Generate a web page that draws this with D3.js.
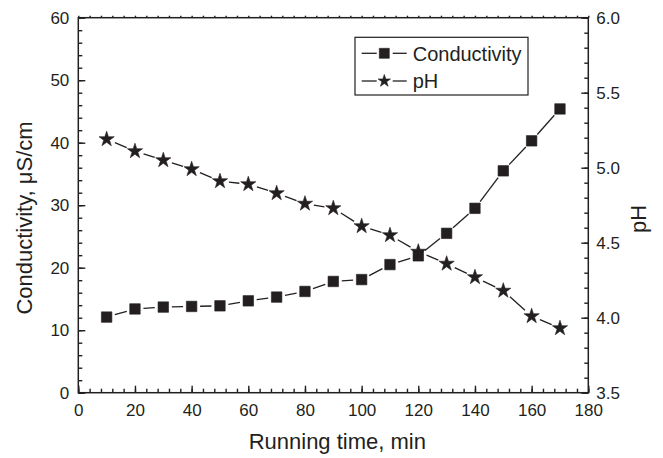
<!DOCTYPE html>
<html>
<head>
<meta charset="utf-8">
<script src="https://cdn.jsdelivr.net/npm/d3@7"></script>
<style>
    body { margin: 0; background: #fff; }
    text { font-family: "Liberation Sans", Arial, Helvetica, sans-serif; fill: #231f20; }
</style>
</head>
<body>
<div id="chart"></div>
<script>
// running time (min) and the two measured series
var times = [10, 20, 30, 40, 50, 60, 70, 80, 90, 100, 110, 120, 130, 140, 150, 160, 170];
var conductivity = [12.1, 13.4, 13.7, 13.8, 13.9, 14.7, 15.3, 16.2, 17.8, 18.1, 20.5, 21.9, 25.5, 29.5, 35.5, 40.3, 45.4];
var phValues = [5.19, 5.11, 5.05, 4.99, 4.91, 4.89, 4.83, 4.76, 4.73, 4.61, 4.55, 4.44, 4.36, 4.27, 4.18, 4.01, 3.93];

var xTicks = [0, 20, 40, 60, 80, 100, 120, 140, 160, 180];
var condTicks = [0, 10, 20, 30, 40, 50, 60];
var phTicks = [3.5, 4.0, 4.5, 5.0, 5.5, 6.0];

var seriesNames = ["Conductivity", "pH"];

var ink = "#231f20";

var margin = { left: 78.3, top: 17.7, right: 74.7, bottom: 65.3 },
    width = 663 - margin.left - margin.right,
    height = 458 - margin.top - margin.bottom;

// //////////////////////////////////////////////////////////
// ///////////////////// Scales /////////////////////////////
// //////////////////////////////////////////////////////////

var x = d3.scaleLinear().domain([0, 180]).range([0, width]);
var yCond = d3.scaleLinear().domain([0, 60]).range([height, 0]);
var yPh = d3.scaleLinear().domain([3.5, 6.0]).range([height, 0]);

var svg = d3.select("#chart").append("svg")
    .attr("width", 663)
    .attr("height", 458)
    .append("g")
    .attr("transform", "translate(" + margin.left + "," + margin.top + ")");

// //////////////////////////////////////////////////////////
// ///////////////////// Axes ///////////////////////////////
// //////////////////////////////////////////////////////////

function minorTicks(scale, step) {
    var d = scale.domain(), out = [];
    for (var v = d[0]; v <= d[1] + 1e-9; v += step) out.push(+v.toFixed(4));
    return out;
}

function styleAxis(g) {
    g.select(".domain").remove();
    g.selectAll("line").attr("stroke", ink).attr("stroke-width", 1.4);
    g.selectAll("text").style("font-size", "17px").style("font-family", null).attr("fill", ink);
}

// minor ticks first, then majors with labels
svg.append("g")
    .attr("transform", "translate(0," + height + ")")
    .call(d3.axisBottom(x).tickValues(minorTicks(x, 4)).tickSize(-4).tickFormat(""))
    .call(styleAxis);
svg.append("g")
    .attr("transform", "translate(0," + height + ")")
    .call(d3.axisBottom(x).tickValues(xTicks).tickSize(-7).tickPadding(11).tickFormat(d3.format("d")))
    .call(styleAxis);

// top edge: small outward marks
svg.append("g")
    .call(d3.axisTop(x).tickValues(minorTicks(x, 4)).tickSize(2).tickFormat(""))
    .call(styleAxis);

svg.append("g")
    .call(d3.axisLeft(yCond).tickValues(minorTicks(yCond, 2)).tickSize(-4).tickFormat(""))
    .call(styleAxis);
svg.append("g")
    .call(d3.axisLeft(yCond).tickValues(condTicks).tickSize(-7).tickPadding(9).tickFormat(d3.format("d")))
    .call(styleAxis);

svg.append("g")
    .attr("transform", "translate(" + width + ",0)")
    .call(d3.axisRight(yPh).tickValues(minorTicks(yPh, 0.1)).tickSize(-4).tickFormat(""))
    .call(styleAxis);
svg.append("g")
    .attr("transform", "translate(" + width + ",0)")
    .call(d3.axisRight(yPh).tickValues(phTicks).tickSize(-7).tickPadding(8).tickFormat(d3.format(".1f")))
    .call(styleAxis);

// frame
svg.append("rect")
    .attr("width", width)
    .attr("height", height)
    .attr("fill", "none")
    .attr("stroke", ink)
    .attr("stroke-width", 1.5);

// axis titles
svg.append("text")
    .attr("x", width / 2 + 4)
    .attr("y", height + 56)
    .attr("text-anchor", "middle")
    .style("font-size", "22px")
    .text("Running time, min");

svg.append("text")
    .attr("transform", "translate(" + (32 - margin.left) + "," + (218 - margin.top) + ")rotate(-90)")
    .attr("text-anchor", "middle")
    .style("font-size", "22px")
    .text("Conductivity, \u03bcS/cm");

svg.append("text")
    .attr("transform", "translate(" + (646 - margin.left) + "," + (219 - margin.top) + ")rotate(-90)")
    .attr("text-anchor", "middle")
    .style("font-size", "22px")
    .text("pH");

// //////////////////////////////////////////////////////////
// ///////////////// Lines and symbols //////////////////////
// //////////////////////////////////////////////////////////

// line pieces between symbols, cut short so they stop before each marker
function gappedSegments(pts, gap) {
    var segs = [];
    for (var i = 0; i < pts.length - 1; i++) {
        var p = pts[i], q = pts[i + 1];
        var dx = q[0] - p[0], dy = q[1] - p[1];
        var len = Math.sqrt(dx * dx + dy * dy);
        if (len <= 2 * gap) continue;
        var ux = dx / len, uy = dy / len;
        segs.push([p[0] + ux * gap, p[1] + uy * gap, q[0] - ux * gap, q[1] - uy * gap]);
    }
    return segs;
}

function drawSeries(values, yScale, symbolType, symbolSize, gap) {
    var pts = times.map(function(t, i) { return [x(t), yScale(values[i])]; });
    var g = svg.append("g");

    g.selectAll("line")
        .data(gappedSegments(pts, gap))
        .enter().append("line")
        .attr("x1", function(d) { return d[0]; })
        .attr("y1", function(d) { return d[1]; })
        .attr("x2", function(d) { return d[2]; })
        .attr("y2", function(d) { return d[3]; })
        .attr("stroke", ink)
        .attr("stroke-width", 1.3);

    g.selectAll("path")
        .data(pts)
        .enter().append("path")
        .attr("transform", function(d) { return "translate(" + d[0] + "," + d[1] + ")"; })
        .attr("d", d3.symbol().type(symbolType).size(symbolSize))
        .attr("fill", ink)
        .attr("stroke", ink)
        .attr("stroke-width", 0.6)
        .attr("stroke-linejoin", "round");
}

drawSeries(conductivity, yCond, d3.symbolSquare, 110, 8.5);
drawSeries(phValues, yPh, d3.symbolStar, 72, 9);

// //////////////////////////////////////////////////////////
// ///////////////////// Legend /////////////////////////////
// //////////////////////////////////////////////////////////

var legend = svg.append("g")
    .attr("transform", "translate(" + (355 - margin.left) + "," + (37.3 - margin.top) + ")");

legend.append("rect")
    .attr("width", 173)
    .attr("height", 57.7)
    .attr("fill", "#fff")
    .attr("stroke", ink)
    .attr("stroke-width", 1.2);

var legendSymbols = [
    { type: d3.symbolSquare, size: 100 },
    { type: d3.symbolStar, size: 48 }
];

var rows = legend.selectAll("g.row")
    .data(seriesNames)
    .enter().append("g")
    .attr("class", "row")
    .attr("transform", function(d, i) { return "translate(0," + (16 + i * 27.7) + ")"; });

rows.append("line")
    .attr("x1", 6.7).attr("x2", 21.7)
    .attr("stroke", ink).attr("stroke-width", 1.3);
rows.append("line")
    .attr("x1", 37.7).attr("x2", 51.7)
    .attr("stroke", ink).attr("stroke-width", 1.3);

rows.append("path")
    .attr("transform", "translate(29.3,0)")
    .attr("d", function(d, i) {
        return d3.symbol().type(legendSymbols[i].type).size(legendSymbols[i].size)();
    })
    .attr("fill", ink)
    .attr("stroke", ink)
    .attr("stroke-width", 0.6)
    .attr("stroke-linejoin", "round");

rows.append("text")
    .attr("x", 57.7)
    .attr("dy", "0.36em")
    .style("font-size", "20px")
    .text(function(d) { return d; });
</script>
</body>
</html>
